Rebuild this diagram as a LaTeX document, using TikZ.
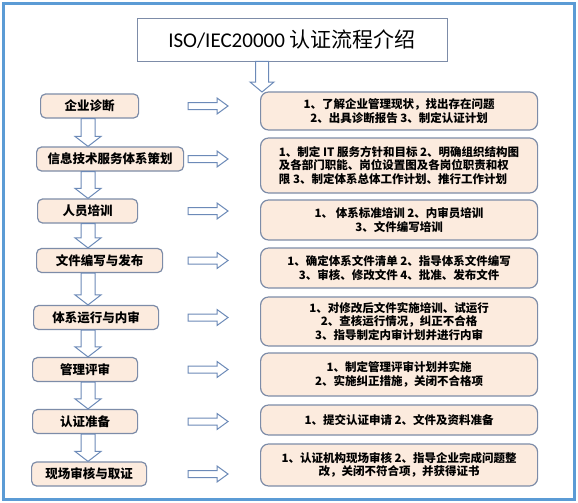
\documentclass[tikz,border=0pt]{standalone}
\usepackage{fontspec}
\setmainfont{Carlito}
\newfontfamily\cjk{Noto Sans CJK SC}
\usepackage{tikz}
\usetikzlibrary{calc}
\tikzset{>=latex}
\definecolor{framebl}{RGB}{91,155,213}
\definecolor{boxline}{RGB}{125,140,168}
\definecolor{boxfill}{RGB}{252,235,222}
\definecolor{arrline}{RGB}{108,138,184}
\tikzset{
  stage/.style = {draw = boxline, fill = boxfill, rounded corners = 5pt, line width = 1.2pt,
    minimum height = 24pt, anchor = west, inner sep = 0pt,
    font = \cjk\bfseries\fontsize{12.5}{14}\selectfont},
  detail/.style = {draw = boxline, fill = boxfill, rounded corners = 8pt, line width = 1.2pt,
    minimum width = 277pt, anchor = west, align = center, inner sep = 0pt,
    font = \cjk\bfseries\fontsize{11.5}{13.5}\selectfont},
  hollow/.style = {draw = arrline, fill = white, line width = 1pt, line join = miter}
}
% #1 top, #2 tip, #3 half shaft, #4 half head
\newcommand{\hollowdown}[4]{%
\draw[hollow] let \p1 = #1, \p2 = #2 in
  (\x1-#3,\y1) -- (\x1-#3,\y2+10pt) -- (\x1-#4,\y2+10pt) -- (\x1,\y2)
  -- (\x1+#4,\y2+10pt) -- (\x1+#3,\y2+10pt) -- (\x1+#3,\y1) -- cycle;}
% #1 tail, #2 tip
\newcommand{\hollowright}[2]{%
\draw[hollow] let \p1 = #1, \p2 = #2 in
  (\x1,\y1-3.5pt) -- (\x2-11pt,\y1-3.5pt) -- (\x2-11pt,\y1-8pt) -- (\x2,\y1)
  -- (\x2-11pt,\y1+8pt) -- (\x2-11pt,\y1+3.5pt) -- (\x1,\y1+3.5pt) -- cycle;}
\begin{document}
\begin{tikzpicture}[x = 1pt, y = -1pt]
\useasboundingbox (0,0) rectangle (578,503);
\fill[white] (0,0) rectangle (578,503);
\draw[framebl, line width = 3pt] (3.5,3.5) rectangle (574.5,499.5);

\coordinate (col) at (88,0);
\coordinate (rtail) at (188,0);
\coordinate (rtip) at (228,0);

% title
\node[draw = boxline, fill = white, line width = 0.9pt, minimum width = 310pt, minimum height = 43pt,
  inner sep = 0pt, font = \fontsize{21}{24}\selectfont] (title) at (292,39.5)
  {ISO/IEC20000 {\cjk 认证流程介绍}};
\coordinate (start) at (262,92);
\hollowdown{(title.south -| start)}{(start)}{6.5pt}{12pt}

% stages
\node[stage, minimum width = 98pt] (diag) at (40,106) {企业诊断};
\node[stage, minimum width = 147pt] (plan) at (36,159) {信息技术服务体系策划};
\node[stage, minimum width = 100pt] (train) at (37,211) {人员培训};
\node[stage, minimum width = 126pt] (docs) at (36,260.5) {文件编写与发布};
\node[stage, minimum width = 125pt] (run) at (33,317.5) {体系运行与内审};
\node[stage, minimum width = 105pt] (review) at (32,369.5) {管理评审};
\node[stage, minimum width = 105pt] (prep) at (32,421.5) {认证准备};
\node[stage, minimum width = 115pt] (audit) at (31,474) {现场审核与取证};

\hollowdown{(diag.south -| col)}{(plan.north -| col)}{7pt}{13pt}
\hollowdown{(plan.south -| col)}{(train.north -| col)}{7pt}{13pt}
\hollowdown{(train.south -| col)}{(docs.north -| col)}{7pt}{13pt}
\hollowdown{(docs.south -| col)}{(run.north -| col)}{7pt}{13pt}
\hollowdown{(run.south -| col)}{(review.north -| col)}{7pt}{13pt}
\hollowdown{(review.south -| col)}{(prep.north -| col)}{7pt}{13pt}
\hollowdown{(prep.south -| col)}{(audit.north -| col)}{7pt}{13pt}

% details
\node[detail, minimum height = 38pt] (diagtxt) at (260,111)
  {1、了解企业管理现状，找出存在问题\\2、出具诊断报告 3、制定认证计划};
\node[detail, minimum height = 55pt, align = left] (plantxt) at (260,165.5)
  {1、制定 IT 服务方针和目标 2、明确组织结构图\\及各部门职能、岗位设置图及各岗位职责和权\\限 3、制定体系总体工作计划、推行工作计划};
\node[detail, minimum height = 40pt] (traintxt) at (260,220)
  {1、 体系标准培训 2、内审员培训\\3、文件编写培训};
\node[detail, minimum height = 40pt] (docstxt) at (260,268)
  {1、确定体系文件清单 2、指导体系文件编写\\3、审核、修改文件 4、批准、发布文件};
\node[detail, minimum height = 49pt] (runtxt) at (260,321.5)
  {1、对修改后文件实施培训、试运行\\2、查核运行情况，纠正不合格\\3、指导制定内审计划并进行内审};
\node[detail, minimum height = 43pt] (reviewtxt) at (260,374.5)
  {1、制定管理评审计划并实施\\2、实施纠正措施，关闭不合格项};
\node[detail, minimum height = 30pt] (preptxt) at (260,420)
  {1、提交认证申请 2、文件及资料准备};
\node[detail, minimum height = 42pt] (audittxt) at (260,465)
  {1、认证机构现场审核 2、指导企业完成问题整\\改，关闭不符合项，并获得证书};

\hollowright{(diag.center -| rtail)}{(diag.center -| rtip)}
\hollowright{(plan.center -| rtail)}{(plan.center -| rtip)}
\hollowright{(train.center -| rtail)}{(train.center -| rtip)}
\hollowright{(docs.center -| rtail)}{(docs.center -| rtip)}
\hollowright{(run.center -| rtail)}{(run.center -| rtip)}
\hollowright{(review.center -| rtail)}{(review.center -| rtip)}
\hollowright{(prep.center -| rtail)}{(prep.center -| rtip)}
\hollowright{(audit.center -| rtail)}{(audit.center -| rtip)}
\end{tikzpicture}
\end{document}
